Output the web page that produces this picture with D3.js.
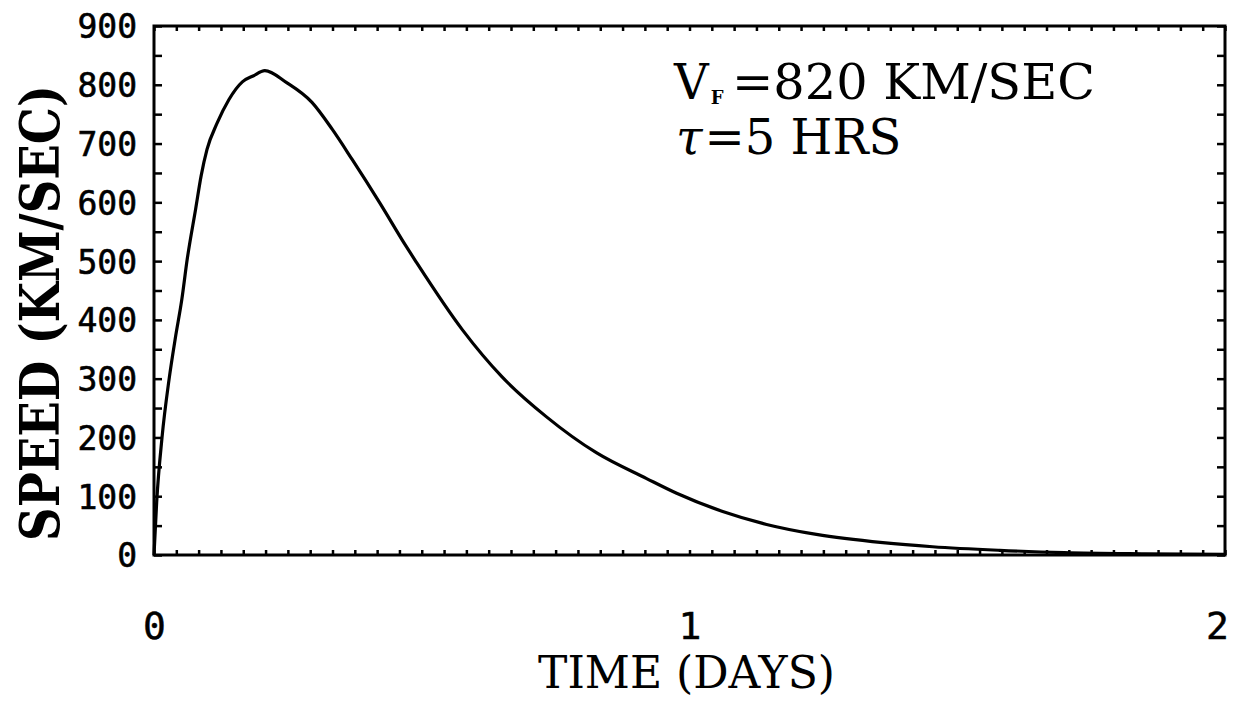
<!DOCTYPE html>
<html>
<head>
<meta charset="utf-8">
<script src="https://cdn.jsdelivr.net/npm/d3@7"></script>
<style>
  html, body { margin: 0; padding: 0; background: #fff; }
  svg { display: block; }
</style>
</head>
<body>
<svg id="chart" width="1249" height="701"></svg>
<script>
// ---- data ----
const timeDays = [0, 0.005, 0.015, 0.028, 0.040, 0.052, 0.062, 0.078, 0.088, 0.099, 0.118, 0.140, 0.165, 0.185, 0.207,
                  0.247, 0.295, 0.333, 0.370, 0.421, 0.471, 0.490, 0.576, 0.650, 0.733, 0.826, 0.920, 0.976,
                  1.062, 1.144, 1.237, 1.361, 1.454, 1.579, 1.700, 1.850, 2.000];
const speedKms = [0, 90, 200, 298, 370, 435, 503, 590, 645, 690, 735, 775, 805, 815, 824,
                  804, 770, 724, 673, 600, 525, 498, 383, 303, 235, 174, 130, 105,
                  74, 52, 35, 21, 14, 8, 4, 2, 1];
const yTickLabels = [0, 100, 200, 300, 400, 500, 600, 700, 800, 900];
const yMinorTicks = d3.range(0, 901, 50);
const xTickLabels = [0, 1, 2];
const xMinorTicks = d3.range(0, 49).map(h => h / 24);
const xTitle = "TIME (DAYS)";
const yTitle = "SPEED (KM/SEC)";

// ---- layout ----
const svg = d3.select("#chart");
const mLeft = 154, mRight = 1225, mTop = 26, mBottom = 555;
const x = d3.scaleLinear().domain([0, 2]).range([mLeft, mRight]);
const y = d3.scaleLinear().domain([0, 900]).range([mBottom, mTop]);

const ink = "#000";

// ticks (inward) on all four sides
function styleAxis(g) {
  g.select(".domain").remove();
  g.selectAll(".tick line").attr("stroke", ink).attr("stroke-width", 2.5);
}
svg.append("g").attr("transform", `translate(0,${mBottom})`)
  .call(d3.axisBottom(x).tickValues(xMinorTicks).tickSize(-5).tickFormat(""))
  .call(styleAxis);
svg.append("g").attr("transform", `translate(0,${mTop})`)
  .call(d3.axisTop(x).tickValues(xMinorTicks).tickSize(-5).tickFormat(""))
  .call(styleAxis);
svg.append("g").attr("transform", `translate(${mLeft},0)`)
  .call(d3.axisLeft(y).tickValues(yMinorTicks).tickSize(-8).tickFormat(""))
  .call(styleAxis);
svg.append("g").attr("transform", `translate(${mRight},0)`)
  .call(d3.axisRight(y).tickValues(yMinorTicks).tickSize(-8).tickFormat(""))
  .call(styleAxis);

// frame
svg.append("rect")
  .attr("x", mLeft).attr("y", mTop)
  .attr("width", mRight - mLeft).attr("height", mBottom - mTop)
  .attr("fill", "none").attr("stroke", ink).attr("stroke-width", 3);

// tick labels
const numFont = "'DejaVu Sans Mono', monospace";
const yLab = svg.append("g").attr("transform", `translate(${mLeft},0)`)
  .call(d3.axisLeft(y).tickValues(yTickLabels).tickSize(0).tickPadding(17).tickFormat(d3.format("d")));
yLab.select(".domain").remove();
yLab.selectAll("text")
  .attr("font-family", numFont).attr("font-size", 33)
  .attr("fill", ink).attr("stroke", ink).attr("stroke-width", 0.6)
  .attr("dy", "0.36em");

const xLab = svg.append("g").attr("transform", `translate(0,${mBottom})`)
  .call(d3.axisBottom(x).tickValues(xTickLabels).tickSize(0).tickPadding(84).tickFormat(d3.format("d")));
xLab.select(".domain").remove();
xLab.selectAll("text")
  .attr("font-family", numFont).attr("font-size", 38)
  .attr("fill", ink).attr("stroke", ink).attr("stroke-width", 0.5)
  .attr("dy", "0")
  .attr("dx", d => d === 2 ? -8 : 0);

// curve
const line = d3.line()
  .x((d, i) => x(timeDays[i]))
  .y(d => y(d))
  .curve(d3.curveMonotoneX);
svg.append("path")
  .datum(speedKms)
  .attr("d", line)
  .attr("fill", "none")
  .attr("stroke", ink)
  .attr("stroke-width", 3.2)
  .attr("stroke-linejoin", "round");

// titles
const typeFont = "'DejaVu Serif', 'Liberation Serif', serif";
svg.append("text")
  .attr("x", 538).attr("y", 688)
  .attr("font-family", typeFont).attr("font-size", 44)
  .attr("textLength", 297).attr("lengthAdjust", "spacingAndGlyphs")
  .attr("fill", ink)
  .text(xTitle);

svg.append("text")
  .attr("transform", "translate(59,541) rotate(-90)")
  .attr("font-family", typeFont).attr("font-size", 54).attr("font-weight", "bold")
  .attr("textLength", 456).attr("lengthAdjust", "spacingAndGlyphs")
  .attr("fill", ink)
  .text(yTitle);

// annotation
const ann = svg.append("g")
  .attr("font-family", typeFont).attr("fill", ink);
const vf = ann.append("text").attr("x", 674).attr("y", 99).attr("font-size", 48);
vf.append("tspan").text("V");
vf.append("tspan").attr("dx", 2).attr("dy", 5).attr("font-size", 18).attr("font-weight", "bold").text("F");
ann.append("text").attr("x", 732).attr("y", 99).attr("font-size", 48)
  .attr("textLength", 363).attr("lengthAdjust", "spacingAndGlyphs")
  .text("=820 KM/SEC");
const tau = ann.append("text").attr("x", 676).attr("y", 154).attr("font-size", 48);
tau.append("tspan").attr("font-style", "italic").text("τ");
tau.append("tspan").attr("dx", 2).text("=5 HRS");
</script>
</body>
</html>
